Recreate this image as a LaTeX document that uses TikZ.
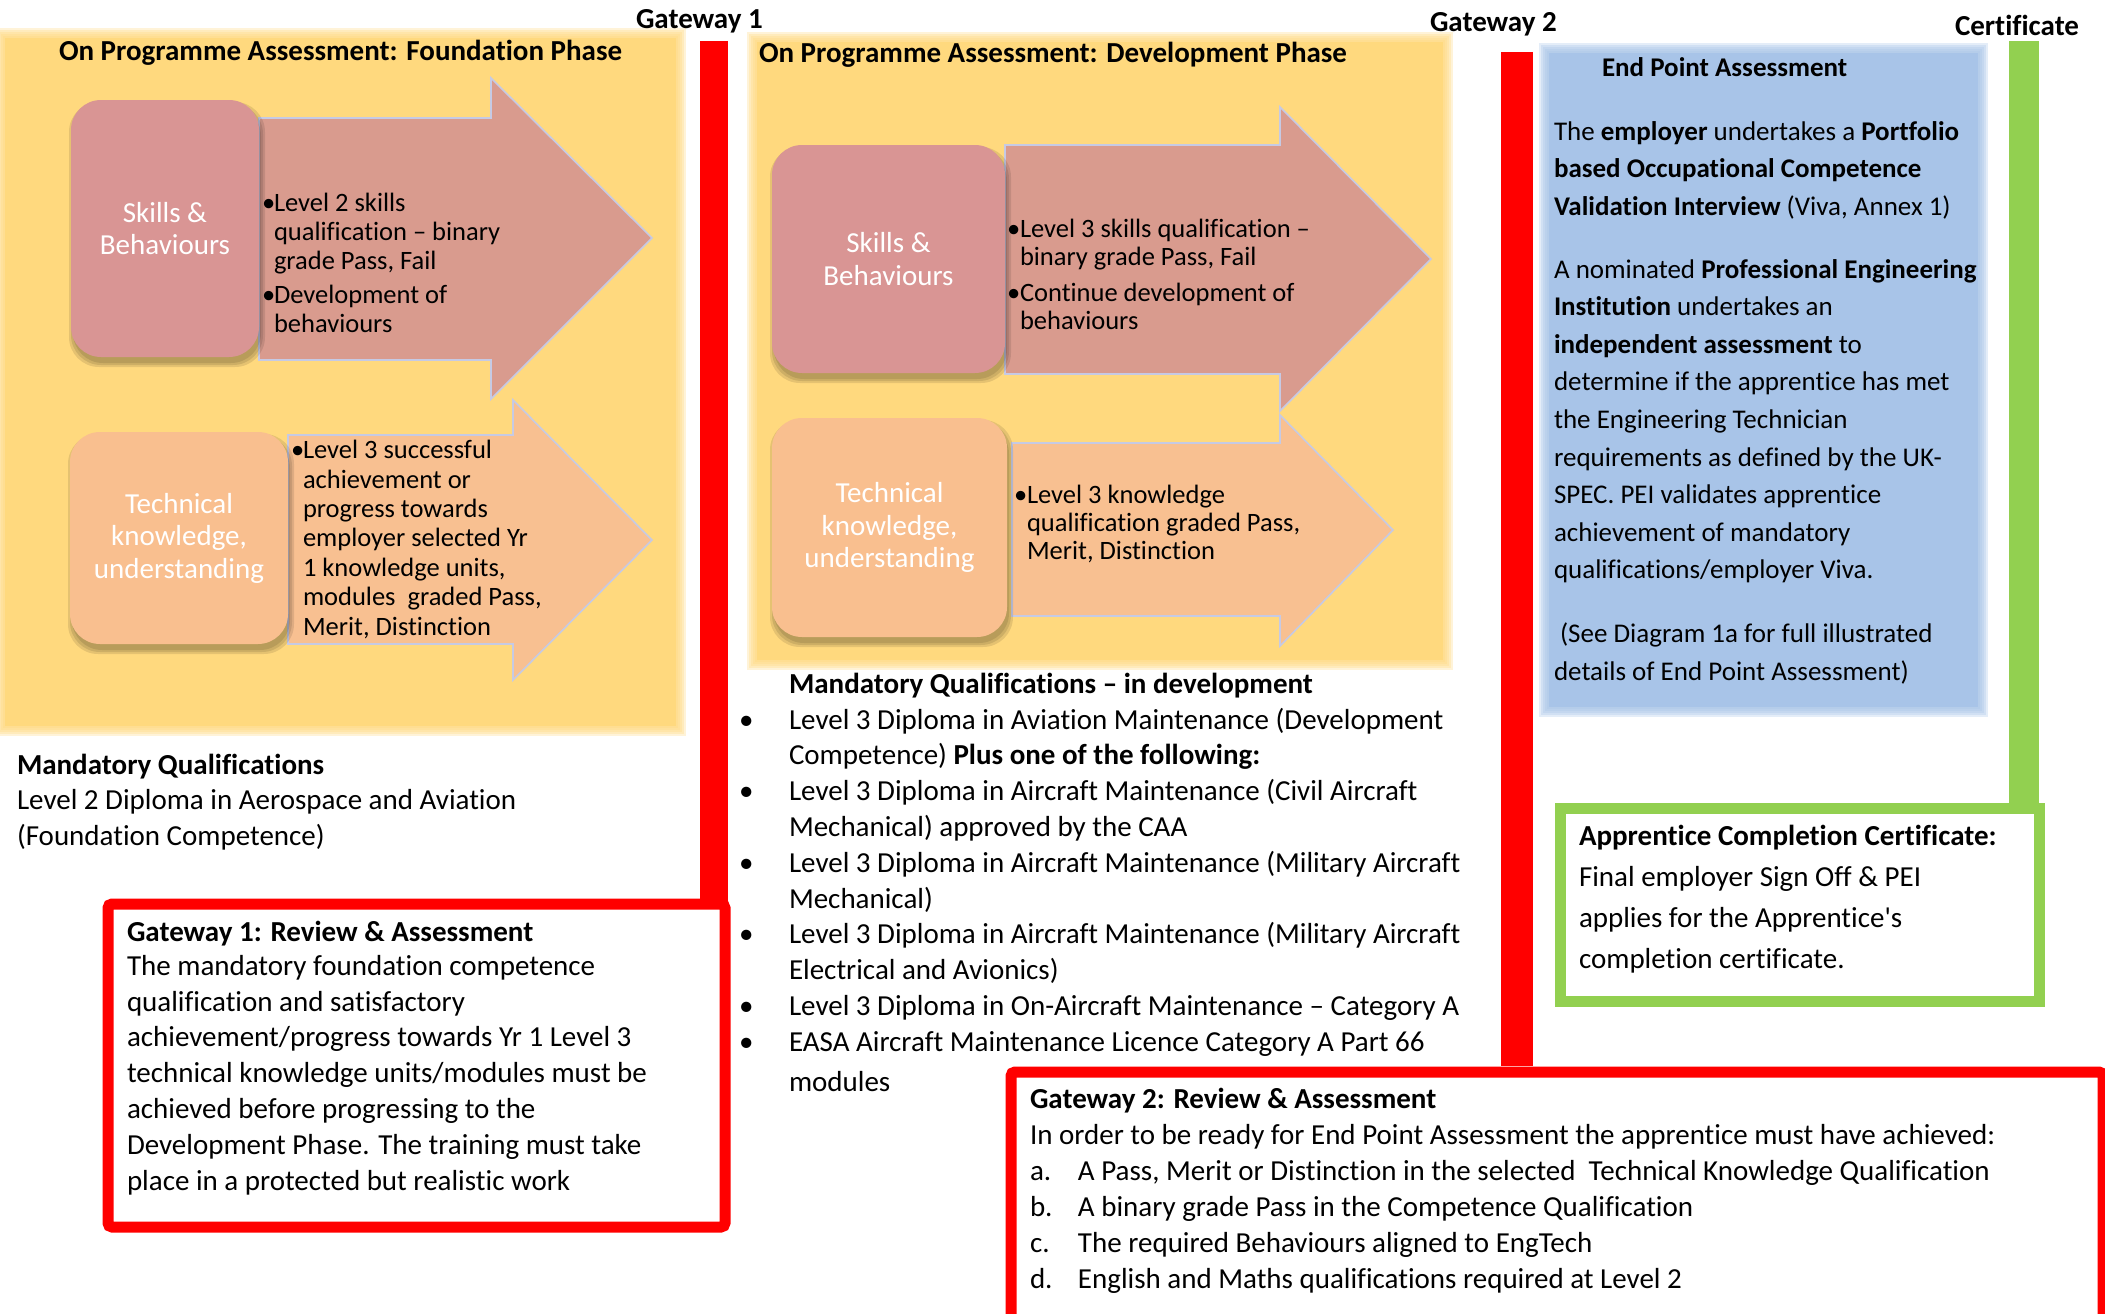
\documentclass[tikz,border=0pt]{standalone}
\usepackage{fontspec}
\setmainfont{Carlito}[Ligatures={TeX,NoCommon}]
\usepackage{array}

\definecolor{panelyellow}{RGB}{255,217,126}
\definecolor{skillrose}{RGB}{217,149,148}
\definecolor{skillarrow}{RGB}{217,155,142}
\definecolor{techpeach}{RGB}{249,191,143}
\definecolor{techarrow}{RGB}{248,192,145}
\definecolor{epablue}{RGB}{168,196,232}
\definecolor{gatered}{RGB}{255,0,0}
\definecolor{certgreen}{RGB}{146,208,80}
\definecolor{arrowedge}{RGB}{198,202,228}

% multi-line blocks: the first line's baseline is the anchor
\newcommand\lines[1]{\begin{tabular}[t]{@{}l@{}}#1\end{tabular}}
\newcommand\blist[2]{\begin{tabular}[t]{@{}p{#1}@{}l@{}}#2\end{tabular}}

% panel with a soft, feathered edge: colour, x1, y1, x2, y2
\newcommand\softpanel[5]{%
  \fill[#1] ({#2+5},{#3+5}) rectangle ({#4-5},{#5-5});
  \foreach \d in {1,3,5,7,9,11}{%
    \fill[#1,opacity=.3] ({#2+6-\d},{#3+6-\d}) rectangle ({#4-6+\d},{#5-6+\d});}%
}

% rounded label box with a soft shadow: name, colour, x1, y1, x2, y2, text
\newcommand\labelbox[7]{%
  \foreach \d in {0,2,4}{%
    \fill[black,opacity=.10,rounded corners=30pt] ({#3+2-\d},{#4+6-\d}) rectangle ({#5+2+\d},{#6+6+\d});}%
  \node[boxlabel, fill=#2, minimum width={#5-#3}, minimum height={#6-#4}] (#1) at ({(#3+#5)/2},{(#4+#6)/2}) {#7};
}

% block arrow: xleft, body top, body bottom, head x, head top, head bottom, tip x, tip y, colour
\newcommand\blockarrow[9]{%
  \draw[arrowshape, fill=#9] (#1,#2) -- (#4,#2) -- (#4,#5) -- (#7,#8) -- (#4,#6) -- (#4,#3) -- (#1,#3) -- cycle;
}

\begin{document}
\begin{tikzpicture}[x=1pt, y=-1pt,
  bodyfont/.style={font=\fontsize{29}{35.8}\selectfont},
  txt/.style={inner sep=0pt, outer sep=0pt, anchor=base west},
  heading/.style={txt, font=\fontsize{29}{30}\selectfont\bfseries},
  boxlabel/.style={rounded corners=30pt, inner sep=0pt, text=white, align=center,
                   font=\fontsize{29}{32.5}\selectfont},
  arrowshape/.style={draw=arrowedge, line width=1.6pt, line join=miter},
  gatebox/.style={draw=gatered, line width=11pt, rounded corners=4pt, inner sep=0pt, anchor=north west},
  certbox/.style={draw=certgreen, line width=11pt, inner sep=0pt, anchor=north west},
  redbar/.style={draw=gatered, line width=28pt},
  greenbar/.style={draw=certgreen, line width=30pt}]

\fill[white] (0,0) rectangle (2105,1314);
\useasboundingbox (0,0) rectangle (2105,1314);

% ---------- phase panels ----------
\softpanel{panelyellow}{0}{33}{681}{731}
\softpanel{panelyellow}{752}{37}{1448}{665}
\softpanel{epablue}{1544}{48}{1983}{712}

% ---------- foundation phase ----------
\node[heading] (fndtitle) at (59,60) {On Programme Assessment: Foundation Phase};

\blockarrow{259}{118}{360}{491}{78}{399}{652}{238}{skillarrow}
\blockarrow{288}{435}{644}{513}{400}{680}{652}{540}{techarrow}

\labelbox{fndskills}{skillrose}{71}{100}{259}{357}{Skills \&\\Behaviours}
\labelbox{fndtech}{techpeach}{70}{432}{288}{644}{Technical\\knowledge,\\understanding}

\node[txt, font=\fontsize{26.5}{29}\selectfont] (fndskilltxt) at (262,211)
  {\blist{12pt}{\textbullet & Level 2 skills\\ & qualification – binary\\ & grade Pass, Fail\\[5pt]
   \textbullet & Development of\\ & behaviours}};
\node[txt, font=\fontsize{26.5}{29.4}\selectfont] (fndtechtxt) at (291,458.7)
  {\blist{12pt}{\textbullet & Level 3 successful\\ & achievement or\\ & progress towards\\
   & employer selected Yr\\ & 1 knowledge units,\\ & modules~ graded Pass,\\ & Merit, Distinction}};

\node[txt, bodyfont] (fndmq) at (17,774)
  {\lines{\textbf{Mandatory Qualifications}\\Level 2 Diploma in Aerospace and Aviation\\(Foundation Competence)}};

% ---------- gateway 1 ----------
\node[heading] (gw1label) at (636,29) {Gateway 1};
\node[gatebox, minimum width=617, minimum height=323] (gw1box) at (102.5,898.5) {};
\coordinate (gw1top) at (714,41);
\coordinate (gw1foot) at (714,901);
\draw[redbar] (gw1top) -- (gw1foot);
\node[txt, bodyfont] (gw1txt) at (127,941)
  {\lines{\textbf{Gateway 1: Review \& Assessment}\\[-1.5pt]
   The mandatory foundation competence\\ qualification and satisfactory\\
   achievement/progress towards Yr 1 Level 3\\ technical knowledge units/modules must be\\
   achieved before progressing to the\\ Development Phase. The training must take\\
   place in a protected but realistic work}};

% ---------- development phase ----------
\node[heading] (devtitle) at (759,63) {On Programme Assessment: Development Phase};

\blockarrow{1005}{145}{374}{1280}{107}{411}{1431}{259}{skillarrow}
\blockarrow{1012}{443}{616}{1280}{415}{646}{1393}{530}{techarrow}

\labelbox{devskills}{skillrose}{772}{145}{1005}{373}{Skills \&\\Behaviours}
\labelbox{devtech}{techpeach}{772}{418}{1007}{637}{Technical\\knowledge,\\understanding}

\node[txt, font=\fontsize{26.5}{28}\selectfont] (devskilltxt) at (1007,237.6)
  {\blist{13pt}{\textbullet & Level 3 skills qualification –\\ & binary grade Pass, Fail\\[8pt]
   \textbullet & Continue development of\\ & behaviours}};
\node[txt, font=\fontsize{26.5}{28}\selectfont] (devtechtxt) at (1014,503)
  {\blist{13pt}{\textbullet & Level 3 knowledge\\ & qualification graded Pass,\\ & Merit, Distinction}};

\node[txt, font=\fontsize{29}{35.8}\selectfont\bfseries] (devmqtitle) at (789,693)
  {Mandatory Qualifications – in development};
\node[txt, bodyfont] (devmq) at (739,729)
  {\blist{50pt}{\textbullet & Level 3 Diploma in Aviation Maintenance (Development\\
   & Competence) \textbf{Plus one of the following:}\\
   \textbullet & Level 3 Diploma in Aircraft Maintenance (Civil Aircraft\\
   & Mechanical) approved by the CAA\\
   \textbullet & Level 3 Diploma in Aircraft Maintenance (Military Aircraft\\
   & Mechanical)\\
   \textbullet & Level 3 Diploma in Aircraft Maintenance (Military Aircraft\\
   & Electrical and Avionics)\\
   \textbullet & Level 3 Diploma in On-Aircraft Maintenance – Category A\\
   \textbullet & EASA Aircraft Maintenance Licence Category A Part 66\\[4pt]
   & modules}};

% ---------- gateway 2 ----------
\node[heading] (gw2label) at (1430,32) {Gateway 2};
\node[gatebox, minimum width=1092, minimum height=247.5] (gw2box) at (1005.5,1066.5) {};
\coordinate (gw2top) at (1517,52);
\coordinate (gw2foot) at (1517,1066);
\draw[redbar, line width=32pt] (gw2top) -- (gw2foot);
\node[txt, bodyfont] (gw2txt) at (1030,1108)
  {\begin{tabular}[t]{@{}p{48pt}@{}l@{}}
   \multicolumn{2}{@{}l@{}}{\textbf{Gateway 2: Review \& Assessment}}\\[1pt]
   \multicolumn{2}{@{}l@{}}{In order to be ready for End Point Assessment the apprentice must have achieved:}\\
   a. & A Pass, Merit or Distinction in the selected~ Technical Knowledge Qualification\\
   b. & A binary grade Pass in the Competence Qualification\\
   c. & The required Behaviours aligned to EngTech\\
   d. & English and Maths qualifications required at Level 2
   \end{tabular}};

% ---------- end point assessment ----------
\node[txt, font=\fontsize{27}{30}\selectfont\bfseries] (epatitle) at (1602,76.5) {End Point Assessment};
\node[txt, font=\fontsize{27}{37.5}\selectfont] (epatxt) at (1554,140)
  {\lines{The \textbf{employer} undertakes a \textbf{Portfolio}\\
   \textbf{based Occupational Competence}\\
   \textbf{Validation Interview} (Viva, Annex 1)\\[26pt]
   A nominated \textbf{Professional Engineering}\\
   \textbf{Institution} undertakes an\\
   \textbf{independent assessment} to\\
   determine if the apprentice has met\\
   the Engineering Technician\\
   requirements as defined by the UK-\\
   SPEC. PEI validates apprentice\\
   achievement of mandatory\\
   qualifications/employer Viva.\\[27pt]
   \hspace*{6pt}(See Diagram 1a for full illustrated\\
   details of End Point Assessment)}};

% ---------- certificate ----------
\node[heading] (certlabel) at (1955,36) {Certificate};
\coordinate (certtop) at (2024,41.5);
\coordinate (certfoot) at (2024,803);
\draw[greenbar] (certtop) -- (certfoot);
\node[certbox, minimum width=479, minimum height=193] (certbox) at (1554.5,802.5) {};
\node[txt, font=\fontsize{29}{41.3}\selectfont] (certtxt) at (1579,845)
  {\lines{\textbf{Apprentice Completion Certificate:}\\Final employer Sign Off \& PEI\\
   applies for the Apprentice\textquotesingle s\\completion certificate.}};

\end{tikzpicture}
\end{document}
